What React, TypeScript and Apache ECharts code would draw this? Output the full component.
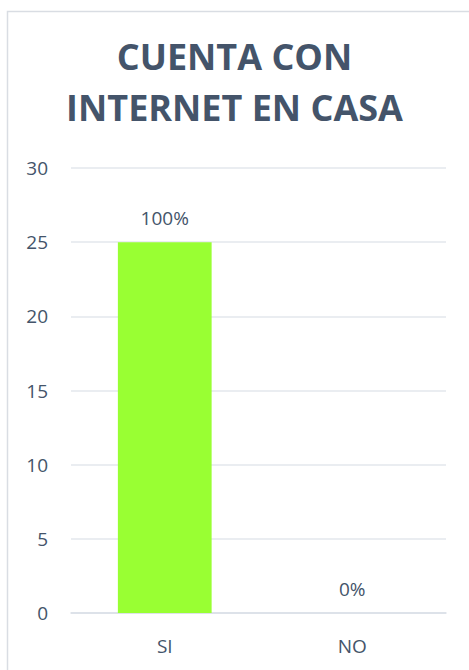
import React, { useEffect, useRef } from "react";
import * as echarts from "echarts";

const titleLines = ["CUENTA CON", "INTERNET EN CASA"];
const categories = ["SI", "NO"];
const values = [25, 0];
const percentLabels = ["100%", "0%"];
const yMin = 0;
const yMax = 30;
const yInterval = 5;

export default function App() {
  const ref = useRef<HTMLDivElement>(null);
  useEffect(() => {
    if (!ref.current) return;
    const chart = echarts.init(ref.current, null, { renderer: "svg" });
    const textColor = "#44546A";
    chart.setOption({
      animation: false,
      backgroundColor: "#ffffff",
      title: {
        text: titleLines.join("\n"),
        left: "center",
        top: 26,
        textStyle: {
          fontFamily: "Open Sans",
          fontWeight: "bold",
          fontSize: 36,
          lineHeight: 51,
          color: textColor,
        },
      },
      graphic: [
        {
          type: "rect",
          shape: { x: 7.5, y: 11.5, width: 480, height: 680 },
          style: { fill: "none", stroke: "#D9DDE3", lineWidth: 1.5 },
          silent: true,
        },
      ],
      grid: { left: 71, right: 23, top: 168, bottom: 57, containLabel: false },
      xAxis: {
        type: "category",
        data: categories,
        axisLine: { show: true, lineStyle: { color: "#D9DEE6", width: 1.5 } },
        axisTick: { show: false },
        axisLabel: {
          color: textColor,
          fontFamily: "Open Sans",
          fontSize: 19,
          margin: 23,
        },
      },
      yAxis: {
        type: "value",
        min: yMin,
        max: yMax,
        interval: yInterval,
        axisLine: { show: false },
        axisTick: { show: false },
        splitLine: { lineStyle: { color: "#E3E7EC", width: 1.5 } },
        axisLabel: {
          color: textColor,
          fontFamily: "Open Sans",
          fontSize: 19,
          margin: 23,
        },
      },
      series: [
        {
          type: "bar",
          data: values,
          barWidth: "50%",
          itemStyle: { color: "#99FF33" },
          label: {
            show: true,
            position: "top",
            distance: 15,
            color: textColor,
            fontFamily: "Open Sans",
            fontSize: 19,
            formatter: (p: any) => percentLabels[p.dataIndex],
          },
        },
      ],
    });
    return () => chart.dispose();
  }, []);
  return (
    <div
      ref={ref}
      style={{ position: "absolute", left: 0, top: 0, width: 469, height: 670 }}
    />
  );
}
